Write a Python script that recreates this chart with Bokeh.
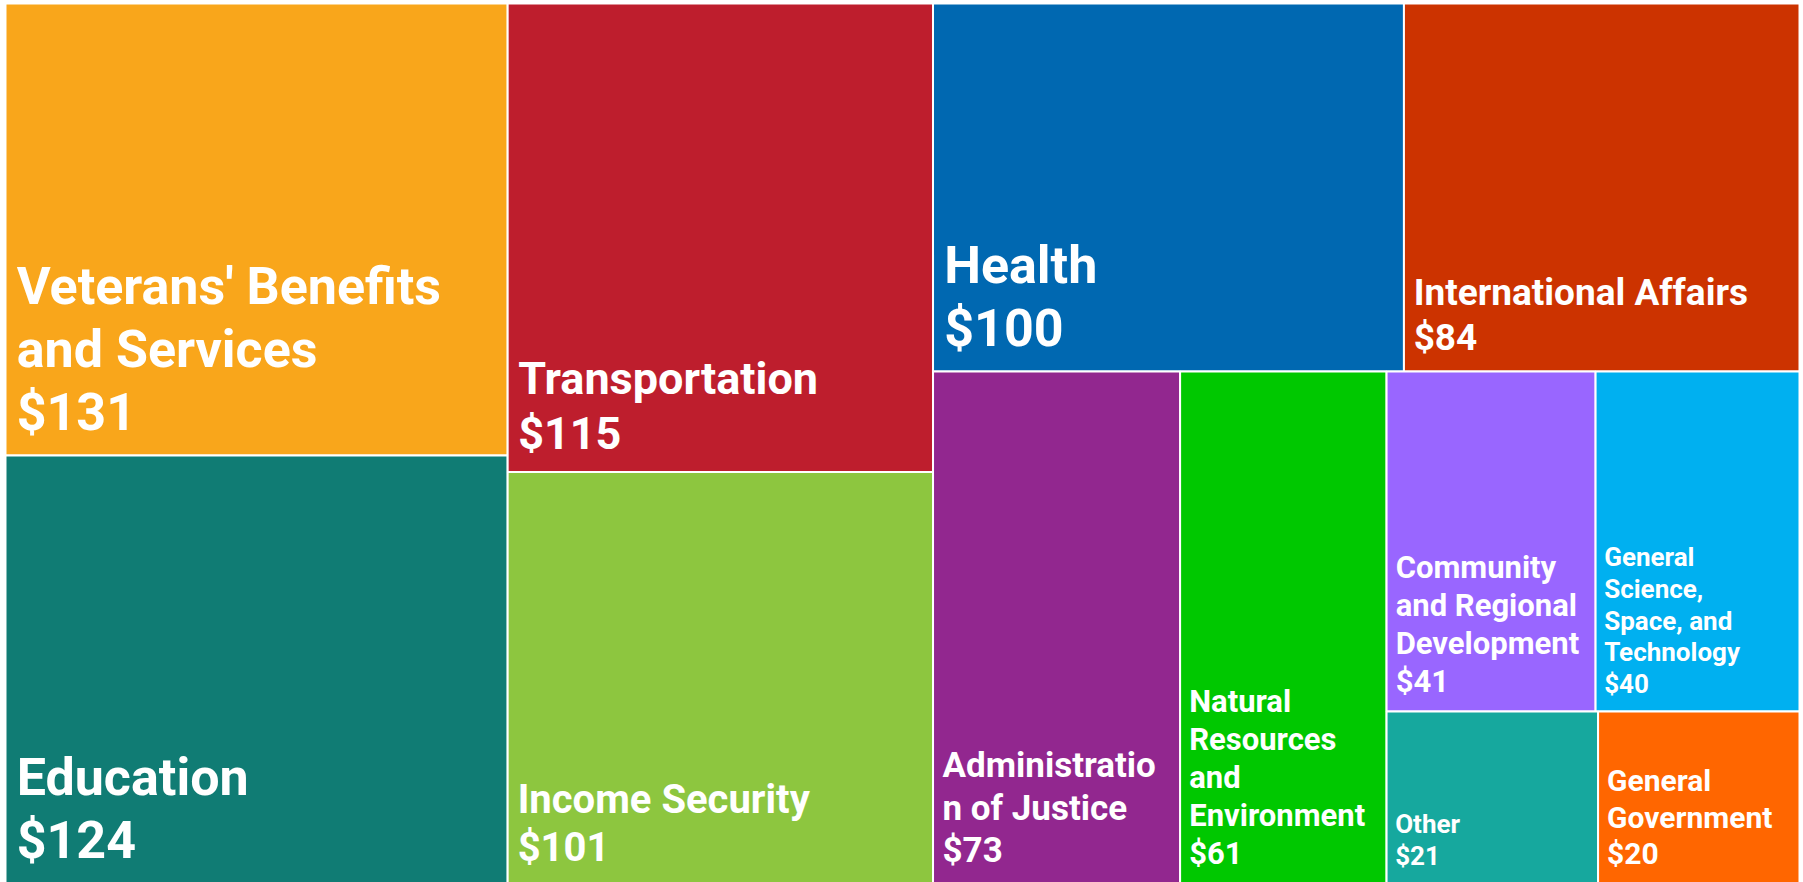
from bokeh.plotting import figure
from bokeh.models import Range1d, ColumnDataSource
from bokeh.core.properties import value
from bokeh.embed import file_html
from bokeh.resources import INLINE

# ---------------- data ----------------
categories = [
    "Veterans' Benefits and Services", "Education", "Transportation",
    "Income Security", "Health", "International Affairs",
    "Administration of Justice", "Natural Resources and Environment",
    "Community and Regional Development",
    "General Science, Space, and Technology", "Other", "General Government",
]
amounts = [131, 124, 115, 101, 100, 84, 73, 61, 41, 40, 21, 20]
label_lines = [
    ["Veterans' Benefits", "and Services"],
    ["Education"],
    ["Transportation"],
    ["Income Security"],
    ["Health"],
    ["International Affairs"],
    ["Administratio", "n of Justice"],
    ["Natural", "Resources", "and", "Environment"],
    ["Community", "and Regional", "Development"],
    ["General", "Science,", "Space, and", "Technology"],
    ["Other"],
    ["General", "Government"],
]

# ---------------- styles ----------------
colors = ["#F9A61B", "#107C74", "#BE1E2D", "#8DC63F", "#0068B1", "#CC3300",
          "#92278F", "#00C800", "#9966FF", "#00B0F0", "#16A89E", "#FF6600"]
font_px = [52, 52, 45, 40, 52, 37, 35, 31, 31, 26, 26, 30]
FONT = "Roboto"

# treemap split structure (h = side by side, v = stacked), leaves are indices
layout = ("h", [("v", [0, 1]),
                ("v", [2, 3]),
                ("v", [("h", [4, 5]),
                       ("h", [6, 7, ("v", [("h", [8, 9]), ("h", [10, 11])])])])])

FIG_W, FIG_H = 1803, 882
AREA = (5, 3, 1799, 883)   # treemap frame (left, top, right, bottom) in pixels


def total(node):
    if isinstance(node, int):
        return amounts[node]
    return sum(total(k) for k in node[1])


rects = {}


def place(node, x0, y0, x1, y1):
    if isinstance(node, int):
        rects[node] = (x0, y0, x1, y1)
        return
    d, kids = node
    s = total(node)
    pos = x0 if d == "h" else y0
    for k in kids:
        f = total(k) / s
        if d == "h":
            w = (x1 - x0) * f
            place(k, pos, y0, pos + w, y1)
        else:
            w = (y1 - y0) * f
            place(k, x0, pos, x1, pos + w)
        pos += w


place(layout, *AREA)

order = sorted(rects)
cells = ColumnDataSource(dict(
    left=[rects[i][0] for i in order],
    right=[rects[i][2] for i in order],
    top=[rects[i][1] for i in order],
    bottom=[rects[i][3] for i in order],
    color=[colors[i] for i in order],
    name=[categories[i] for i in order],
    amount=[amounts[i] for i in order],
))

tx, ty, tt, tf = [], [], [], []
for i in order:
    x0, y0, x1, y1 = rects[i]
    fs = font_px[i]
    lines = label_lines[i] + ["$%d" % amounts[i]]
    pitch = 1.22 * fs
    last = y1 - 0.59 * fs - 12
    n = len(lines)
    for k, ln in enumerate(lines):
        tx.append(x0 + 0.1 * fs + 6)
        ty.append(last - (n - 1 - k) * pitch)
        tt.append(ln)
        tf.append("%dpx" % fs)
labels = ColumnDataSource(dict(x=tx, y=ty, text=tt, size=tf))

p = figure(width=FIG_W, height=FIG_H, output_backend="svg", toolbar_location=None,
           x_range=Range1d(0, FIG_W), y_range=Range1d(FIG_H, 0),
           min_border=0, x_axis_location=None, y_axis_location=None)
p.grid.visible = False
p.outline_line_color = None
p.background_fill_color = "white"
p.border_fill_color = "white"

p.quad(left="left", right="right", top="top", bottom="bottom", source=cells,
       fill_color="color", line_color="white", line_width=2)
p.text(x="x", y="y", text="text", source=labels, text_font_size="size",
       text_font=value(FONT), text_font_style="bold", text_color="white",
       text_align="left", text_baseline="alphabetic")

open("out.html", "w").write(file_html(p, INLINE))
